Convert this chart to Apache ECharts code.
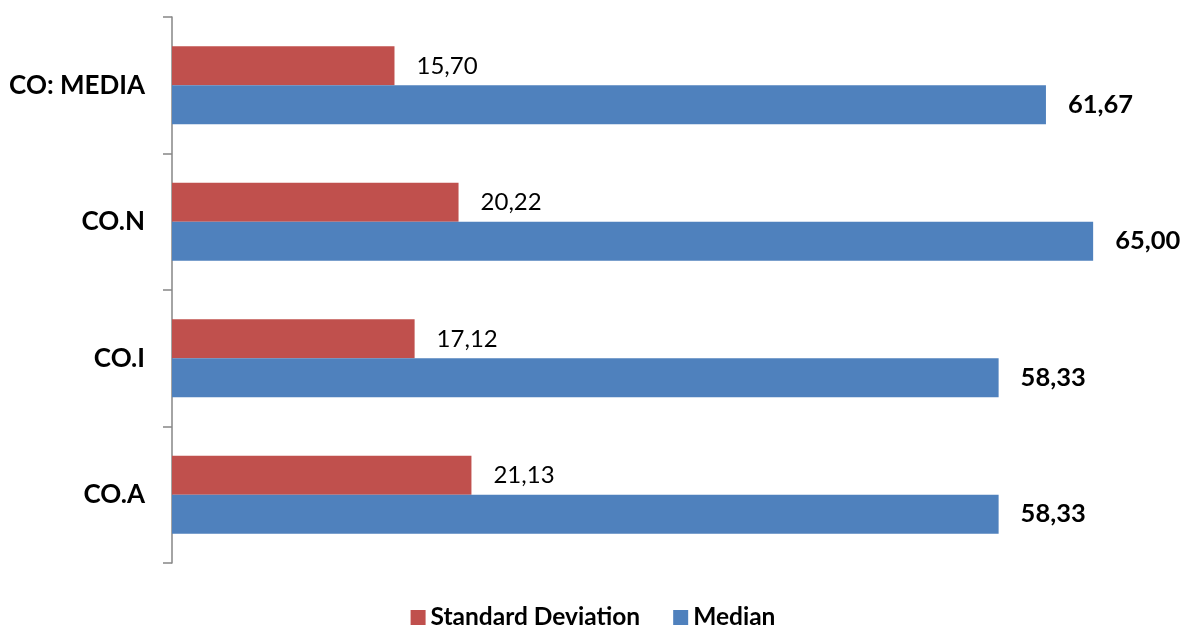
<!DOCTYPE html>
<html>
<head>
<meta charset="utf-8">
<script src="https://cdn.jsdelivr.net/npm/echarts@6/dist/echarts.min.js"></script>
<style>
  html, body { margin: 0; padding: 0; background: #fff; }
  #main { width: 1186px; height: 626px; }
</style>
</head>
<body>
<div id="main"></div>
<script>
const categories = ['CO.A', 'CO.I', 'CO.N', 'CO: MEDIA']
const stdDev = [21.13, 17.12, 20.22, 15.70]
const median = [58.33, 58.33, 65.00, 61.67]

const fmt = (p) => p.value.toFixed(2).replace('.', ',')
const font = 'Lato, "Open Sans", sans-serif'

const chart = echarts.init(document.getElementById('main'))
chart.setOption({
  animation: false,
  textStyle: { fontFamily: font },
  grid: { left: 172, right: 22, top: 17, bottom: 63 },
  legend: {
    data: ['Standard Deviation', 'Median'],
    top: 605,
    left: 'center',
    padding: 0,
    itemWidth: 15,
    itemHeight: 15,
    itemGap: 33,
    icon: 'rect',
    textStyle: { fontFamily: font, fontWeight: 'bold', fontSize: 24.5, color: '#000' },
  },
  xAxis: {
    type: 'value',
    min: 0,
    max: 70,
    show: false,
  },
  yAxis: {
    type: 'category',
    data: categories,
    axisLine: { show: true, lineStyle: { color: '#868686', width: 1.5 } },
    axisTick: { show: true, length: 9, lineStyle: { color: '#868686', width: 1.5 } },
    axisLabel: {
      margin: 27,
      fontFamily: font,
      fontWeight: 'bold',
      fontSize: 26,
      color: '#000',
    },
  },
  series: [
    {
      name: 'Standard Deviation',
      type: 'bar',
      data: stdDev,
      barGap: '0%',
      barCategoryGap: '43%',
      itemStyle: { color: '#C0504D' },
      label: {
        show: true,
        position: 'right',
        distance: 22,
        formatter: fmt,
        fontFamily: font,
        fontSize: 24,
        color: '#000',
      },
    },
    {
      name: 'Median',
      type: 'bar',
      data: median,
      barGap: '0%',
      barCategoryGap: '43%',
      itemStyle: { color: '#4F81BD' },
      label: {
        show: true,
        position: 'right',
        distance: 22,
        formatter: fmt,
        fontFamily: font,
        fontWeight: 'bold',
        fontSize: 25.5,
        color: '#000',
      },
    },
  ],
})
</script>
</body>
</html>
